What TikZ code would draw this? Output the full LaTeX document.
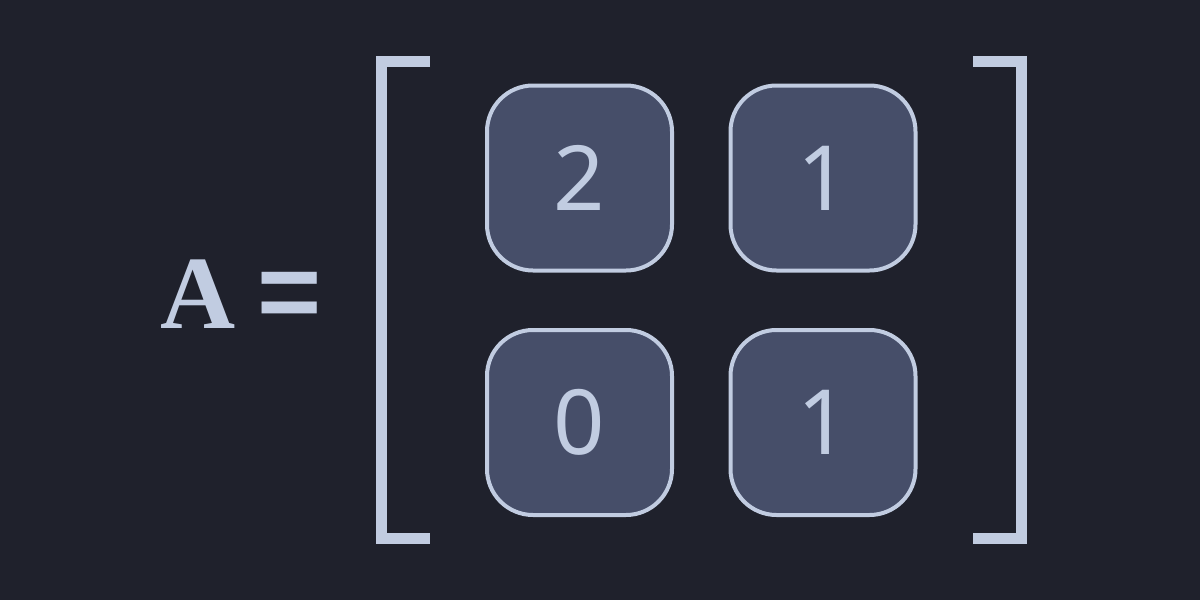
\documentclass[tikz,border=0pt]{standalone}
\usepackage{fontspec}
\setmainfont{Noto Sans}
\newfontfamily\serifbold{Liberation Serif}
\newfontfamily\sansbold{Liberation Sans}
\definecolor{bgcol}{HTML}{1F212C}
\definecolor{cellfill}{HTML}{464E69}
\definecolor{ink}{HTML}{C1CCE1}
\tikzset{
  cell/.style={rectangle, draw=ink, fill=cellfill, line width=4pt, rounded corners=46pt,
    minimum width=185pt, minimum height=185pt, inner sep=0pt, text=ink,
    font=\fontsize{90}{90}\selectfont},
  bracketline/.style={draw=ink, line width=11pt, line join=miter, line cap=butt},
}
\begin{document}
\begin{tikzpicture}[x=1pt,y=-1pt]
\fill[bgcol] (0,0) rectangle (1200,600);
\useasboundingbox (0,0) rectangle (1200,600);
\node[anchor=base, text=ink, inner sep=0pt, font=\serifbold\bfseries\fontsize{104}{104}\selectfont] (lhs) at (198,328) {A};
\node[anchor=center, text=ink, inner sep=0pt, font=\sansbold\bfseries\fontsize{110}{110}\selectfont] (eq) at (290,300.5) {=};
\draw[bracketline] (430,61.5) -- (381.5,61.5) -- (381.5,538.5) -- (430,538.5);
\draw[bracketline] (973,61.5) -- (1021.5,61.5) -- (1021.5,538.5) -- (973,538.5);
\node[cell] (a11) at (579.5,178) {2};
\node[cell] (a12) at (823,178) {1};
\node[cell] (a21) at (579.5,422.5) {0};
\node[cell] (a22) at (823,422.5) {1};
\end{tikzpicture}
\end{document}
